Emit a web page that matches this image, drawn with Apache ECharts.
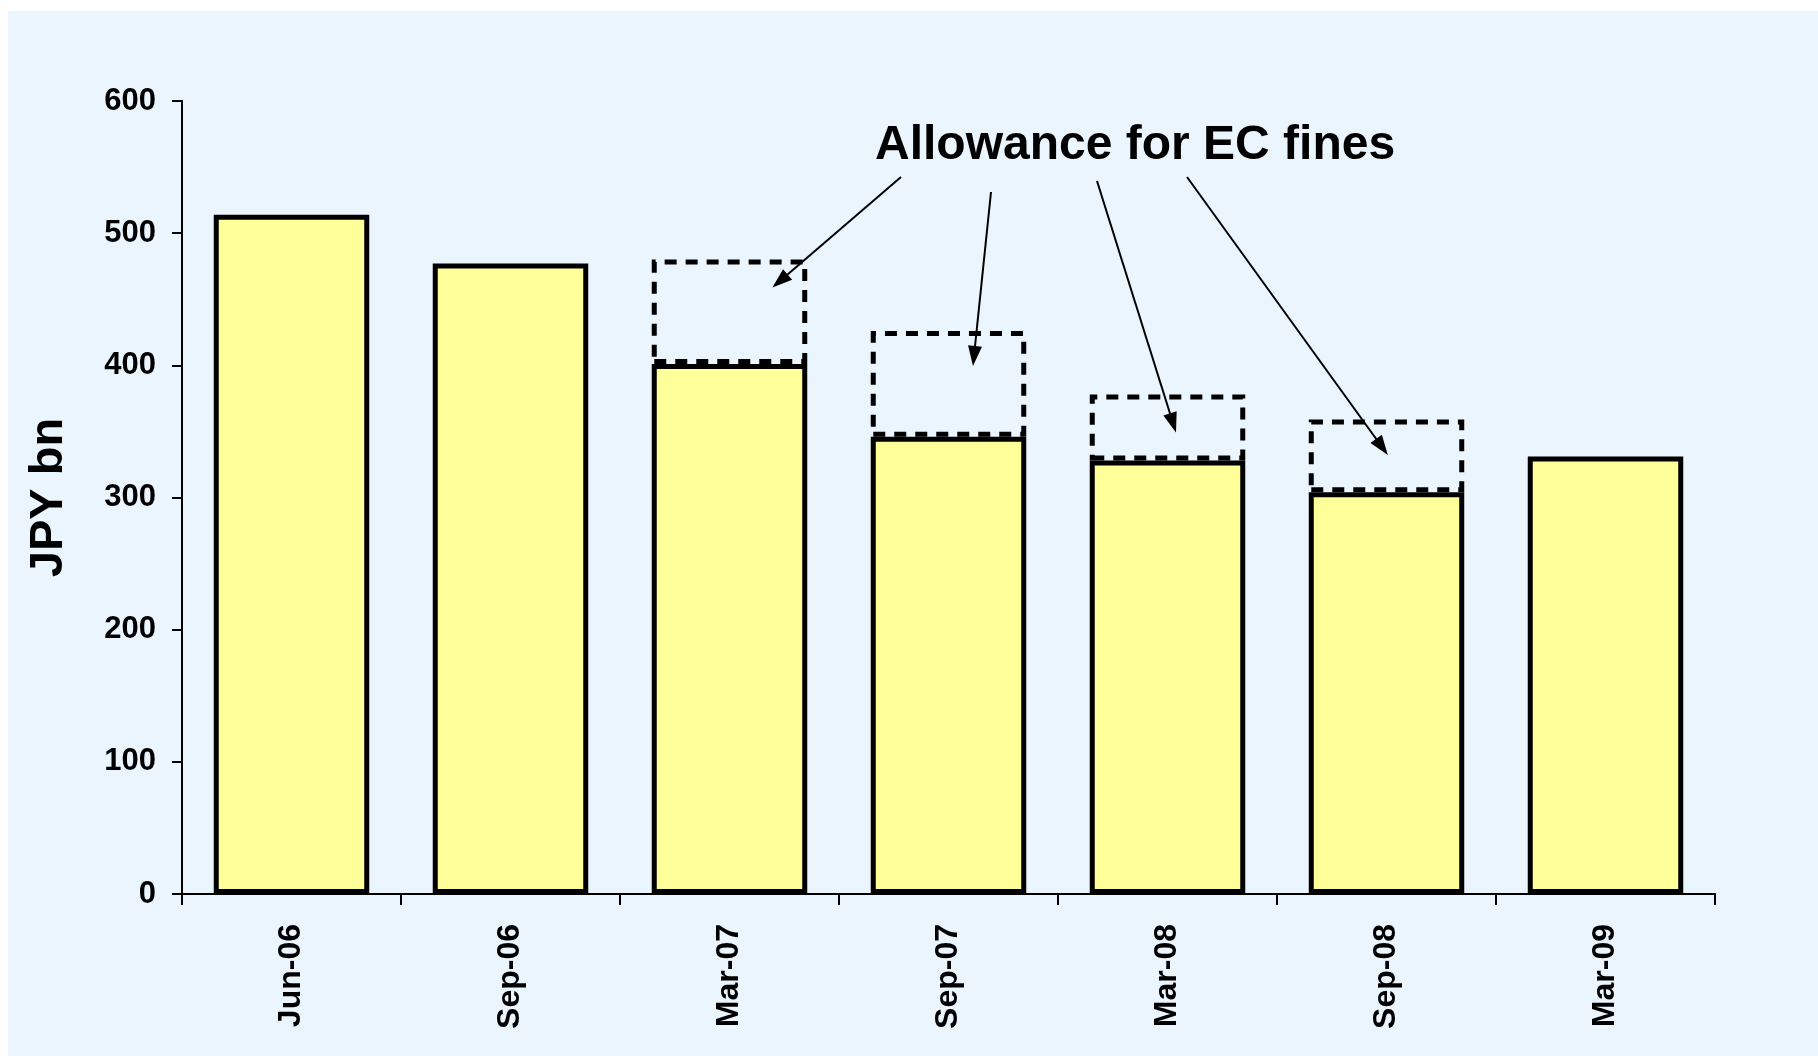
<!DOCTYPE html>
<html>
<head>
	<title></title>
	<script src="https://cdn.jsdelivr.net/npm/echarts@6/dist/echarts.min.js"></script>
	<style>
	html, body {
		margin: 0;
		height: 100%;
		background: #ffffff;
	}
	#main {
		position: absolute;
		left: 8px;
		top: 11px;
		width: 1810px;
		height: 1045px;
		background-color: #EBF5FE;
	}
	</style>
</head>
<body>
	<div id="main"></div>
	<script>
		var categories = ['Jun-06', 'Sep-06', 'Mar-07', 'Sep-07', 'Mar-08', 'Sep-08', 'Mar-09'];
		// reported value
		var reported = [514, 477, 401, 346, 328, 304, 331];
		// extra amount set aside for EC fines (dashed boxes)
		var allowance = ['-', '-', 79, 80, 50, 55, '-'];
		var yTicks = [0, 100, 200, 300, 400, 500, 600];

		var font = '"Liberation Sans", Arial, sans-serif';
		var myChart = echarts.init(document.getElementById('main'));

		// arrows from the note to the dashed boxes (pixel positions in the chart box)
		var arrows = [
			[[893, 166], [772, 270]],
			[[983, 181], [966, 345]],
			[[1089, 170], [1165, 412]],
			[[1179, 166], [1374, 436]]
		];

		var option = {
			animation: false,
			grid: {
				left: 174,
				right: 103,
				top: 90,
				bottom: 162,
				outerBoundsMode: 'none'
			},
			xAxis: {
				type: 'category',
				data: categories,
				axisLine: { lineStyle: { color: '#000', width: 2 } },
				axisTick: { show: true, length: 11, lineStyle: { color: '#000', width: 2 } },
				axisLabel: {
					rotate: 90,
					margin: 30,
					color: '#000',
					fontSize: 32,
					fontWeight: 'bold',
					fontFamily: font
				}
			},
			yAxis: {
				type: 'value',
				min: 0,
				max: 600,
				interval: 100,
				name: 'JPY bn',
				nameLocation: 'middle',
				nameRotate: 90,
				nameGap: 92,
				nameTextStyle: {
					color: '#000',
					fontSize: 47,
					fontWeight: 'bold',
					fontFamily: font
				},
				splitLine: { show: false },
				axisLine: { show: true, lineStyle: { color: '#000', width: 2 } },
				axisTick: { show: true, length: 10, lineStyle: { color: '#000', width: 2 } },
				axisLabel: {
					margin: 26,
					color: '#000',
					fontSize: 31,
					fontWeight: 'bold',
					fontFamily: font,
					formatter: function (v) { return yTicks.indexOf(v) >= 0 ? String(v) : ''; }
				}
			},
			graphic: [{
				type: 'text',
				left: 867,
				top: 93,
				style: {
					text: 'Allowance for EC fines',
					fill: '#000',
					font: 'bold 48px ' + font
				}
			}],
			series: [{
				type: 'bar',
				stack: 'total',
				barWidth: '71%',
				data: reported,
				itemStyle: {
					color: '#FFFF99',
					borderColor: '#000',
					borderWidth: 5
				},
				markLine: {
					silent: true,
					symbol: ['none', 'triangle'],
					symbolSize: [14, 20],
					label: { show: false },
					lineStyle: { color: '#000', width: 2, type: 'solid' },
					data: arrows.map(function (a) {
						return [{ x: a[0][0], y: a[0][1] }, { x: a[1][0], y: a[1][1] }];
					})
				}
			}, {
				type: 'bar',
				stack: 'total',
				barWidth: '71%',
				data: allowance,
				itemStyle: {
					color: 'rgba(0,0,0,0)',
					borderColor: '#000',
					borderWidth: 5,
					borderType: [12, 9]
				}
			}]
		};
		myChart.setOption(option);
	</script>
</body>
</html>
